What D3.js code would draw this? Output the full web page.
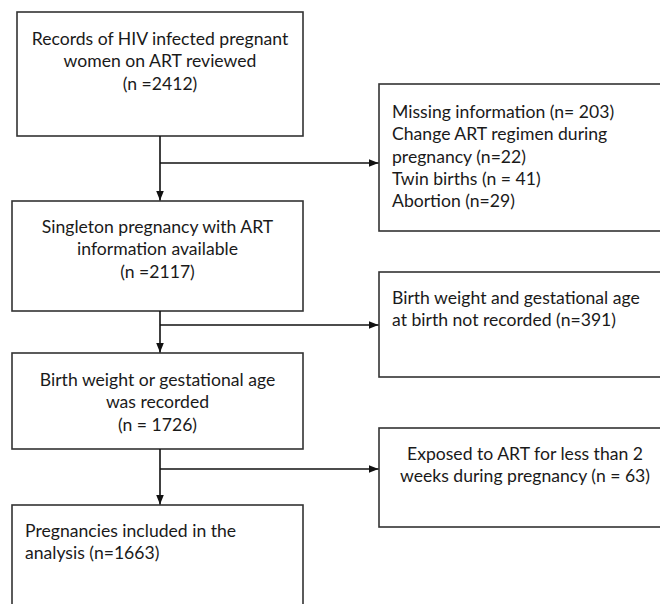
<!DOCTYPE html>
<html>
<head>
<meta charset="utf-8">
<script src="https://cdn.jsdelivr.net/npm/d3@7"></script>
<style>
  body { margin: 0; background: #fff; }
  svg text { font-family: Lato, "Open Sans", sans-serif; fill: #1a1a1a; }
</style>
</head>
<body>
<div id="chart"></div>
<script>
// flow counts
var stageLabels = [
  ["Records of HIV infected pregnant", "women on ART reviewed"],
  ["Singleton pregnancy with ART", "information available"],
  ["Birth weight or gestational age", "was recorded"],
  ["Pregnancies included in the", "analysis"]
];
var stageN = [2412, 2117, 1726, 1663];
var stageFmt = ["(n =", "(n =", "(n = ", "(n="];

var exclusionLabels = [
  ["Missing information (n= 203)", "Change ART regimen during", "pregnancy (n=22)", "Twin births (n = 41)", "Abortion (n=29)"],
  ["Birth weight and gestational age", "at birth not recorded (n=391)"],
  ["Exposed to ART for less than 2", "weeks during pregnancy (n = 63)"]
];
var exclusionN = [295, 391, 63];

var width = 660, height = 604;
var lineH = 22.3;

// layout (box edges in px)
var mainBoxes = [
  { x0: 17, x1: 303, y0: 12,  y1: 136, ty: 45,  align: "middle" },
  { x0: 12, x1: 303, y0: 201, y1: 311, ty: 233, align: "middle" },
  { x0: 12, x1: 303, y0: 353, y1: 449, ty: 386, align: "middle" },
  { x0: 12, x1: 303, y0: 505, y1: 640, ty: 537, align: "start" }
];
var sideBoxes = [
  { x0: 379, x1: 671, y0: 84,  y1: 231, ty: 118, branch: 163, align: "start" },
  { x0: 379, x1: 671, y0: 272, y1: 377, ty: 304, branch: 325, align: "start" },
  { x0: 379, x1: 671, y0: 428, y1: 527, ty: 460, branch: 469, align: "middle" }
];
var spineX = 160;

var svg = d3.select("#chart").append("svg")
  .attr("width", width)
  .attr("height", height);

svg.append("defs").append("marker")
  .attr("id", "arrow")
  .attr("viewBox", "0 0 10 10")
  .attr("refX", 10).attr("refY", 5)
  .attr("markerWidth", 10).attr("markerHeight", 10)
  .attr("markerUnits", "userSpaceOnUse")
  .attr("orient", "auto")
  .append("path")
  .attr("d", "M0,1 L10,5 L0,9 Z")
  .attr("fill", "#111");

var stroke = "#333";

function textLines(g, lines, b)
{
  var tx = b.align === "middle" ? (b.x0 + b.x1) / 2 : b.x0 + 13;
  g.append("text")
    .attr("text-anchor", b.align)
    .attr("font-size", 17.6)
    .selectAll("tspan")
    .data(lines)
    .enter()
    .append("tspan")
    .attr("x", tx)
    .attr("y", function(d, i) { return b.ty + i * lineH; })
    .text(function(d) { return d; });
}

// main boxes
mainBoxes.forEach(function(b, i)
{
  var g = svg.append("g");
  g.append("rect")
    .attr("x", b.x0).attr("y", b.y0)
    .attr("width", b.x1 - b.x0).attr("height", b.y1 - b.y0)
    .attr("fill", "#fff").attr("stroke", stroke).attr("stroke-width", 1.6);
  var lines = stageLabels[i].slice();
  if (i < 3) lines.push(stageFmt[i] + stageN[i] + ")");
  else lines[lines.length - 1] += " " + stageFmt[i] + stageN[i] + ")";
  textLines(g, lines, b);
});

// side boxes
sideBoxes.forEach(function(b, i)
{
  var g = svg.append("g");
  g.append("rect")
    .attr("x", b.x0).attr("y", b.y0)
    .attr("width", b.x1 - b.x0).attr("height", b.y1 - b.y0)
    .attr("fill", "#fff").attr("stroke", stroke).attr("stroke-width", 1.6);
  textLines(g, exclusionLabels[i], b);
});

// vertical arrows between main boxes
for (var i = 0; i < mainBoxes.length - 1; i++)
{
  svg.append("line")
    .attr("x1", spineX).attr("x2", spineX)
    .attr("y1", mainBoxes[i].y1).attr("y2", mainBoxes[i + 1].y0 - 0.5)
    .attr("stroke", "#111").attr("stroke-width", 1.6)
    .attr("marker-end", "url(#arrow)");
}

// branch arrows to exclusion boxes
sideBoxes.forEach(function(b)
{
  svg.append("line")
    .attr("x1", spineX).attr("x2", b.x0 - 0.5)
    .attr("y1", b.branch).attr("y2", b.branch)
    .attr("stroke", "#111").attr("stroke-width", 1.6)
    .attr("marker-end", "url(#arrow)");
});
</script>
</body>
</html>
